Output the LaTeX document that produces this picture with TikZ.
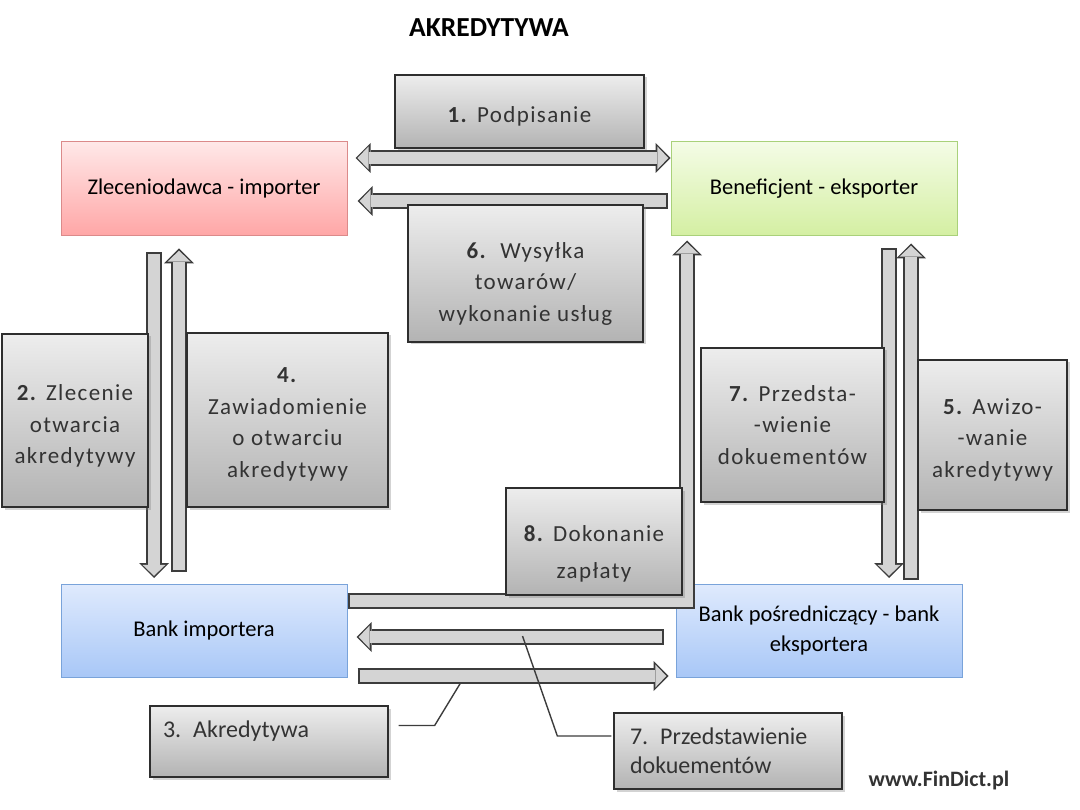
\documentclass[tikz,border=0pt]{standalone}
\usepackage{fontspec}
\setmainfont{Carlito}
\newfontfamily\spacedfont[LetterSpace=6]{Carlito}
\usepackage{tikz}
\usetikzlibrary{positioning, arrows.meta, calc, shadows}
\definecolor{redtop}{HTML}{FFE8E8}
\definecolor{redbot}{HTML}{FFA6A6}
\definecolor{redline}{HTML}{DB8A8A}
\definecolor{greentop}{HTML}{F4FCE6}
\definecolor{greenbot}{HTML}{D4EFA2}
\definecolor{greenline}{HTML}{A9D17A}
\definecolor{bluetop}{HTML}{DFEAFD}
\definecolor{bluebot}{HTML}{A8C7F7}
\definecolor{blueline}{HTML}{79A3DA}
\definecolor{greytop}{HTML}{EDEDED}
\definecolor{greybot}{HTML}{B3B3B3}
\definecolor{boxline}{HTML}{2E2E2E}
\definecolor{arrowline}{HTML}{3C3C3C}
\definecolor{arrowfill}{HTML}{D4D4D4}
\definecolor{textgrey}{HTML}{333333}

% invisible strut that pushes a note's text down a little
\newcommand{\padtop}[1]{\rule{0pt}{#1}}

\tikzset{
  party/.style={draw, line width=1pt, minimum width=286pt, minimum height=94pt,
    align=center, font=\fontsize{22.5}{30}\selectfont},
  importer/.style={party, draw=redline, top color=redtop, bottom color=redbot},
  exporter/.style={party, draw=greenline, top color=greentop, bottom color=greenbot},
  bank/.style={party, draw=blueline, top color=bluetop, bottom color=bluebot},
  stepnote/.style={draw=boxline, line width=1.3pt, top color=greytop, bottom color=greybot,
    inner sep=0pt, align=center, text=textgrey,
    font=\spacedfont\fontsize{23}{31.5}\selectfont,
    drop shadow={shadow xshift=2.5pt, shadow yshift=-2.5pt, opacity=0.35}},
  notebox/.style={stepnote, align=left, font=\fontsize{24}{29}\selectfont},
  flowout/.style={draw=arrowline, line width=16pt, line join=miter,
    >={Triangle[length=15pt, width=30pt, line width=0pt]}},
  flowin/.style={draw=arrowfill, line width=12pt, line join=miter,
    shorten >=2.2pt, shorten <=2pt,
    >={Triangle[length=11pt, width=23pt, line width=0pt]}},
  callout/.style={draw=arrowline, line width=1.4pt},
}
\newcommand{\blockflow}[2]{\draw[flowout, #1] #2; \draw[flowin, #1] #2;}

\begin{document}
\begin{tikzpicture}[x=1pt, y=-1pt]
  \useasboundingbox (0,0) rectangle (1080,810);

  \node[font=\fontsize{27.5}{32}\selectfont\bfseries] (title) at (489,28) {AKREDYTYWA};

  % the four parties
  \node[importer] (zlec) at (204,189) {Zleceniodawca - importer};
  \node[exporter] (benef) at (814,189) {Beneficjent - eksporter};
  \node[bank, minimum height=93pt] (bimp) at (204,631) {Bank importera};
  \node[bank, minimum height=93pt] (beksp) at (819,631) {Bank pośredniczący - bank\\eksportera};

  % flows
  \blockflow{<->}{($(zlec.east)+(8,-31)$) -- ($(benef.west)+(0,-31)$)}
  \blockflow{->}{($(benef.west)+(-3,12)$) -- ($(zlec.east)+(10,12)$)}
  \blockflow{->}{($(zlec.south)+(-50,16)$) -- ($(bimp.north)+(-50,-6)$)}
  \blockflow{->}{($(bimp.north)+(-25,-12)$) -- ($(zlec.south)+(-25,12)$)}
  \blockflow{->}{($(benef.south)+(75,12)$) -- ($(beksp.north)+(70,-6)$)}
  \blockflow{->}{($(beksp.north)+(92,-4)$) -- ($(benef.south)+(97,7)$)}
  \blockflow{->}{($(bimp.east)+(0,-30)$) -| ($(benef.south)+(-127,4)$)}
  \blockflow{->}{($(beksp.west)+(-12,6)$) -- ($(bimp.east)+(9,6)$)}
  \blockflow{->}{($(bimp.east)+(10,45)$) -- ($(beksp.west)+(-7,45)$)}

  % steps
  \node[stepnote, minimum width=249pt, minimum height=73pt] (podp) at (519.5,111.5) {\padtop{25pt}\textbf{1.} Podpisanie};
  \node[stepnote, minimum width=235pt, minimum height=137pt] (wysyl) at (525.5,273.5) {\padtop{36pt}\textbf{6.}\ \ Wysyłka\\towarów/\\wykonanie usług};
  \node[stepnote, minimum width=146pt, minimum height=173pt] (zlecen) at (75,420.5) {\padtop{27pt}\textbf{2.} Zlecenie\\otwarcia\\akredytywy};
  \node[stepnote, minimum width=201pt, minimum height=174pt] (zawiad) at (287.5,420) {\padtop{24pt}\textbf{4.}\\Zawiadomienie\\o otwarciu\\akredytywy};
  \node[stepnote, minimum width=183pt, minimum height=154pt] (przed) at (792.5,425) {\textbf{7.} Przedsta-\\-wienie\\dokuementów};
  \node[stepnote, minimum width=149pt, minimum height=150pt] (awizo) at (992.5,435) {\padtop{25pt}\textbf{5.} Awizo-\\-wanie\\akredytywy};
  \node[stepnote, minimum width=176pt, minimum height=107pt] (zaplata) at (594,541.5) {\padtop{41pt}\textbf{8.} Dokonanie\\[5pt]zapłaty};

  % callouts under the banks
  \node[notebox, text width=212pt, inner xsep=13pt, minimum height=71pt, text depth=24pt] (akr) at (269,741.5) {3. Akredytywa};
  \node[notebox, text width=196pt, inner xsep=16pt, minimum height=76pt] (dokum) at (728,751) {7. Przedstawienie\\dokuementów};
  \coordinate (akrpt) at ($(bimp.east)+(113,52)$);
  \coordinate (dokpt) at ($(bimp.east)+(175,5)$);
  \draw[callout] ($(akr.east)+(10,-16)$) -- ++(36,0) -- (akrpt);
  \draw[callout] ($(dokum.west)+(-2,-15)$) -- ++(-54,0) -- (dokpt);

  \node[font=\fontsize{22}{26}\selectfont\bfseries, text=textgrey] (url) at (939,781) {www.FinDict.pl};
\end{tikzpicture}
\end{document}
